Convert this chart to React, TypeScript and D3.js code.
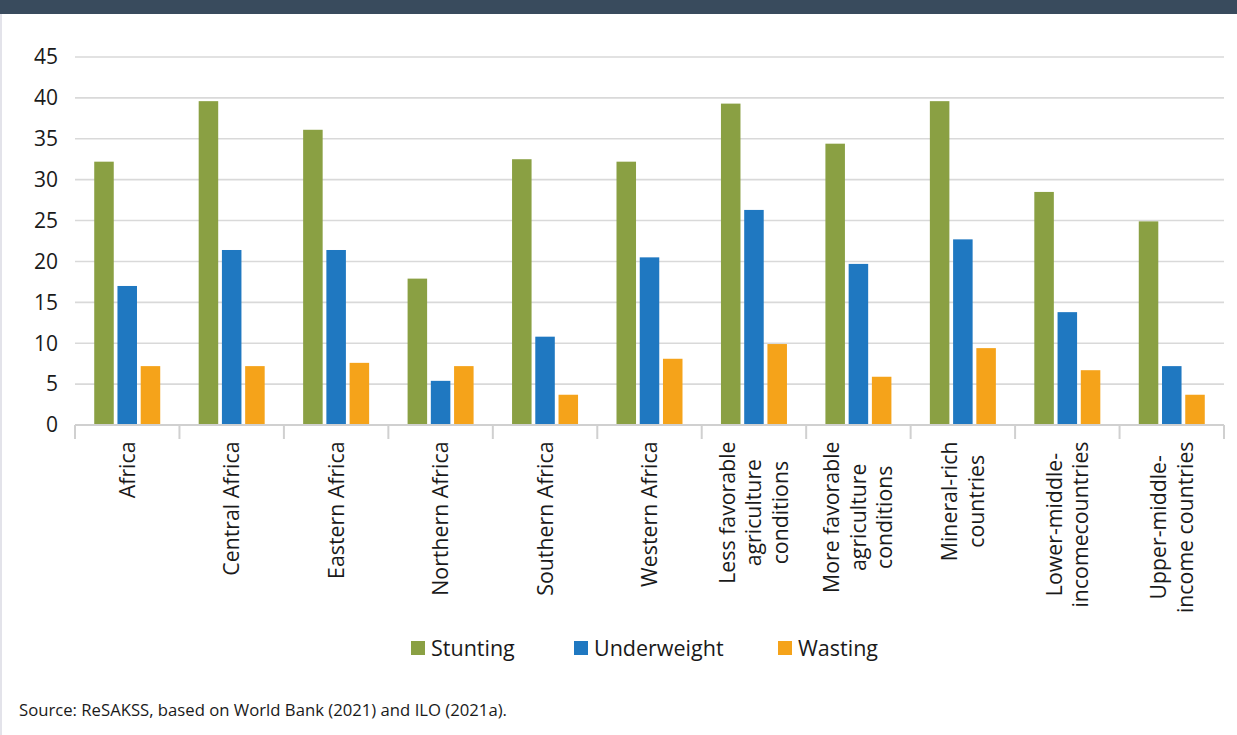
import React, { useEffect, useRef } from "react";
import * as d3 from "d3";

const categories: string[][] = [
  ["Africa"],
  ["Central Africa"],
  ["Eastern Africa"],
  ["Northern Africa"],
  ["Southern Africa"],
  ["Western Africa"],
  ["Less favorable", "agriculture", "conditions"],
  ["More favorable", "agriculture", "conditions"],
  ["Mineral-rich", "countries"],
  ["Lower-middle-", "incomecountries"],
  ["Upper-middle-", "income countries"],
];

const seriesNames = ["Stunting", "Underweight", "Wasting"];
const seriesColors = ["#8aa043", "#1f78c1", "#f5a31a"];

const stunting = [32.2, 39.6, 36.1, 17.9, 32.5, 32.2, 39.3, 34.4, 39.6, 28.5, 24.9];
const underweight = [17.0, 21.4, 21.4, 5.4, 10.8, 20.5, 26.3, 19.7, 22.7, 13.8, 7.2];
const wasting = [7.2, 7.2, 7.6, 7.2, 3.7, 8.1, 9.9, 5.9, 9.4, 6.7, 3.7];

const yTicks = [0, 5, 10, 15, 20, 25, 30, 35, 40, 45];

const sourceText = "Source: ReSAKSS, based on World Bank (2021) and ILO (2021a).";

const W = 1237;
const H = 735;
const FONT = "'Open Sans', 'Noto Sans', sans-serif";

export default function App() {
  const ref = useRef<SVGSVGElement | null>(null);

  useEffect(() => {
    const svg = d3.select(ref.current);
    svg.selectAll("*").remove();

    const left = 75;
    const right = 1224;
    const top = 57;
    const bottom = 425;

    const values = [stunting, underweight, wasting];

    const x = d3
      .scaleBand<number>()
      .domain(categories.map((_, i) => i))
      .range([left, right])
      .paddingInner(0)
      .paddingOuter(0);

    const xs = d3
      .scaleBand<number>()
      .domain([0, 1, 2])
      .range([-33, 33])
      .paddingInner(0.16);

    const y = d3.scaleLinear().domain([0, 45]).range([bottom, top]);

    svg.append("rect").attr("x", 0).attr("y", 0).attr("width", W).attr("height", H).attr("fill", "#ffffff");
    svg.append("rect").attr("x", 0).attr("y", 0).attr("width", W).attr("height", 14).attr("fill", "#394b5d");
    svg
      .append("line")
      .attr("x1", 1)
      .attr("x2", 1)
      .attr("y1", 14)
      .attr("y2", H)
      .attr("stroke", "#e3e3ea")
      .attr("stroke-width", 2);

    // gridlines
    svg
      .append("g")
      .selectAll("line")
      .data(yTicks.filter((t) => t !== 0))
      .join("line")
      .attr("x1", left)
      .attr("x2", right)
      .attr("y1", (d) => y(d))
      .attr("y2", (d) => y(d))
      .attr("stroke", "#d9d9d9")
      .attr("stroke-width", 1.6);

    // y labels
    svg
      .append("g")
      .selectAll("text")
      .data(yTicks)
      .join("text")
      .attr("x", 58)
      .attr("y", (d) => y(d))
      .attr("dy", "0.35em")
      .attr("text-anchor", "end")
      .attr("font-family", FONT)
      .attr("font-size", 21)
      .attr("fill", "#1a1a1a")
      .text((d) => String(d));

    // bars
    values.forEach((vals, s) => {
      svg
        .append("g")
        .selectAll("rect")
        .data(vals)
        .join("rect")
        .attr("x", (_, i) => (x(i) as number) + x.bandwidth() / 2 + (xs(s) as number))
        .attr("y", (d) => y(d))
        .attr("width", xs.bandwidth())
        .attr("height", (d) => y(0) - y(d))
        .attr("fill", seriesColors[s]);
    });

    // axis line and ticks
    svg
      .append("line")
      .attr("x1", left)
      .attr("x2", right)
      .attr("y1", bottom)
      .attr("y2", bottom)
      .attr("stroke", "#d0d0d0")
      .attr("stroke-width", 2);

    const boundaries = categories.map((_, i) => x(i) as number).concat([right]);
    svg
      .append("g")
      .selectAll("line")
      .data(boundaries)
      .join("line")
      .attr("x1", (d) => d)
      .attr("x2", (d) => d)
      .attr("y1", bottom)
      .attr("y2", bottom + 14)
      .attr("stroke", "#d0d0d0")
      .attr("stroke-width", 2);

    // category labels
    const lineH = 26.5;
    const labelTop = 441.5;
    categories.forEach((lines, i) => {
      const cx = (x(i) as number) + x.bandwidth() / 2;
      const g = svg.append("g");
      const texts = lines.map((ln) =>
        g
          .append("text")
          .attr("font-family", FONT)
          .attr("font-size", 21.3)
          .attr("fill", "#1a1a1a")
          .attr("text-anchor", "middle")
          .text(ln)
      );
      let maxLen = 0;
      texts.forEach((t) => {
        const node = t.node() as SVGTextElement;
        maxLen = Math.max(maxLen, node.getComputedTextLength());
      });
      const cy = labelTop + maxLen / 2;
      texts.forEach((t, k) => {
        const bx = cx + (k - (lines.length - 1) / 2) * lineH + 7.5;
        t.attr("transform", `translate(${bx},${cy}) rotate(-90)`);
      });
    });

    // legend
    const legendItems = [
      { x: 411, name: seriesNames[0], color: seriesColors[0] },
      { x: 574, name: seriesNames[1], color: seriesColors[1] },
      { x: 778, name: seriesNames[2], color: seriesColors[2] },
    ];
    const lg = svg.append("g");
    legendItems.forEach((it) => {
      lg.append("rect").attr("x", it.x).attr("y", 641).attr("width", 14).attr("height", 14).attr("fill", it.color);
      lg.append("text")
        .attr("x", it.x + 20)
        .attr("y", 648)
        .attr("dy", "0.35em")
        .attr("font-family", FONT)
        .attr("font-size", 21.5)
        .attr("fill", "#1a1a1a")
        .text(it.name);
    });

    svg
      .append("text")
      .attr("x", 19)
      .attr("y", 716)
      .attr("font-family", FONT)
      .attr("font-size", 16.7)
      .attr("fill", "#1a1a1a")
      .text(sourceText);
  }, []);

  return (
    <div style={{ position: "absolute", left: 0, top: 0, width: W, height: H }}>
      <svg ref={ref} width={W} height={H} style={{ display: "block" }} />
    </div>
  );
}
